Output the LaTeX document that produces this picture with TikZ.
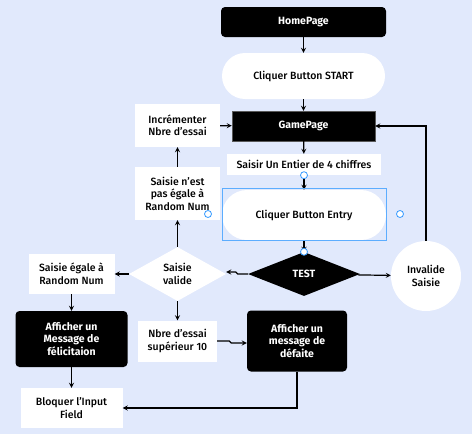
\documentclass[tikz,border=0pt]{standalone}
\usepackage{fontspec}
\setmainfont{Fira Sans}[UprightFont=* Medium, BoldFont=* Bold]
\usetikzlibrary{shapes.geometric}
\usetikzlibrary{calc}
\definecolor{fond}{HTML}{E1E9FC}
\definecolor{poignee}{HTML}{3399FF}

\begin{document}
\begin{tikzpicture}[x=1pt, y=-1pt]
            \tikzstyle{page} = [fill=black, text=white, font=\fontsize{10.5}{12.5}\selectfont\bfseries, align=center, inner sep=0pt]
            \tikzstyle{boite} = [fill=white, font=\fontsize{10.5}{12.5}\selectfont, align=center, inner sep=0pt]
            \tikzstyle{fleche} = [line width=1.2pt, ->, >=stealth]
            \tikzstyle{poignee} = [draw=poignee, fill=white, thick, circle, minimum size=7pt, inner sep=0pt]
            \useasboundingbox[fill=fond] (0, 0) rectangle (472, 434);
            \node[page, rounded corners=4pt, minimum width=165pt, minimum height=30pt] (home) at (303.5, 22) {HomePage};
            \node[boite, rounded corners=23pt, minimum width=163pt, minimum height=46pt] (start) at (303.5, 76) {Cliquer Button START};
            \node[page, draw=gray!70!black, minimum width=143pt, minimum height=30pt] (game) at (303.5, 126) {GamePage};
            \node[boite, minimum width=85pt, minimum height=43pt] (incr) at (177.5, 125.5) {Incrémenter\\Nbre d'essai};
            \node[boite, minimum width=154pt, minimum height=21pt] (saisir) at (304, 164.5) {Saisir Un Entier de 4 chiffres};
            \node[boite, rounded corners=25pt, minimum width=164pt, minimum height=50pt] (entry) at (304, 215) {Cliquer Button Entry};
            \node[boite, minimum width=85pt, minimum height=53pt] (nonegal) at (177.5, 193.5) {Saisie n'est\\pas égale à\\Random Num};
            \node[page, diamond, aspect=2.5, minimum width=112pt, minimum height=44pt] (test) at (304, 274) {TEST};
            \node[boite, diamond, aspect=1.8, minimum width=97pt, minimum height=54pt] (valide) at (177.5, 274) {Saisie\\valide};
            \node[boite, circle, minimum size=70pt] (invalide) at (426, 276) {Invalide\\Saisie};
            \node[boite, minimum width=86pt, minimum height=40pt] (egale) at (71.5, 274) {Saisie égale à\\Random Num};
            \node[page, rounded corners=4pt, minimum width=112pt, minimum height=56pt] (bravo) at (71.5, 339) {Afficher un\\Message de\\félicitaion};
            \node[boite, minimum width=102pt, minimum height=40pt] (bloquer) at (71.5, 408) {Bloquer l'Input\\Field};
            \node[boite, minimum width=79pt, minimum height=41pt] (nbre) at (177.5, 341) {Nbre d'essai\\supérieur 10};
            \node[page, rounded corners=4pt, minimum width=100pt, minimum height=61pt] (defaite) at (297, 341) {Afficher un\\message de\\défaite};
            \draw[fleche] (home) -- (start);
            \draw[fleche] (start) -- (game);
            \draw[fleche] (incr) -- (game);
            \draw[fleche] (game) -- (saisir);
            \draw[fleche] (saisir) -- (entry);
            \draw[fleche] (entry) -- (test);
            \draw[fleche] (test.west) -- ++(-10, 0) -- ++(-2, -2) -- ($(valide.east) + (0, -2)$);
            \draw[fleche] (test) -- (invalide);
            \draw[fleche] (invalide.north) |- (game.east);
            \draw[fleche] (valide) -- (egale);
            \draw[fleche] (valide) -- (nonegal);
            \draw[fleche] (nonegal) -- (incr);
            \draw[fleche] (valide) -- (nbre);
            \draw[fleche] (nbre.east) -- ++(12, 0) -- ++(2, 2) -- ($(defaite.west) + (0, 2)$);
            \draw[fleche] (egale) -- (bravo);
            \draw[fleche] (bravo) -- (bloquer);
            \draw[fleche] (defaite.south) |- (bloquer.east);
            % selection
            \draw[poignee!80, thin] (entry.north west) ++(0, -2) rectangle (entry.south east);
            \node[poignee] (p1) at (saisir.south) {};
            \node[poignee] (p2) at (test.north) {};
            \node[poignee] (p3) at (208, 214) {};
            \node[poignee] (p4) at (400, 214) {};
        \end{tikzpicture}
\end{document}
